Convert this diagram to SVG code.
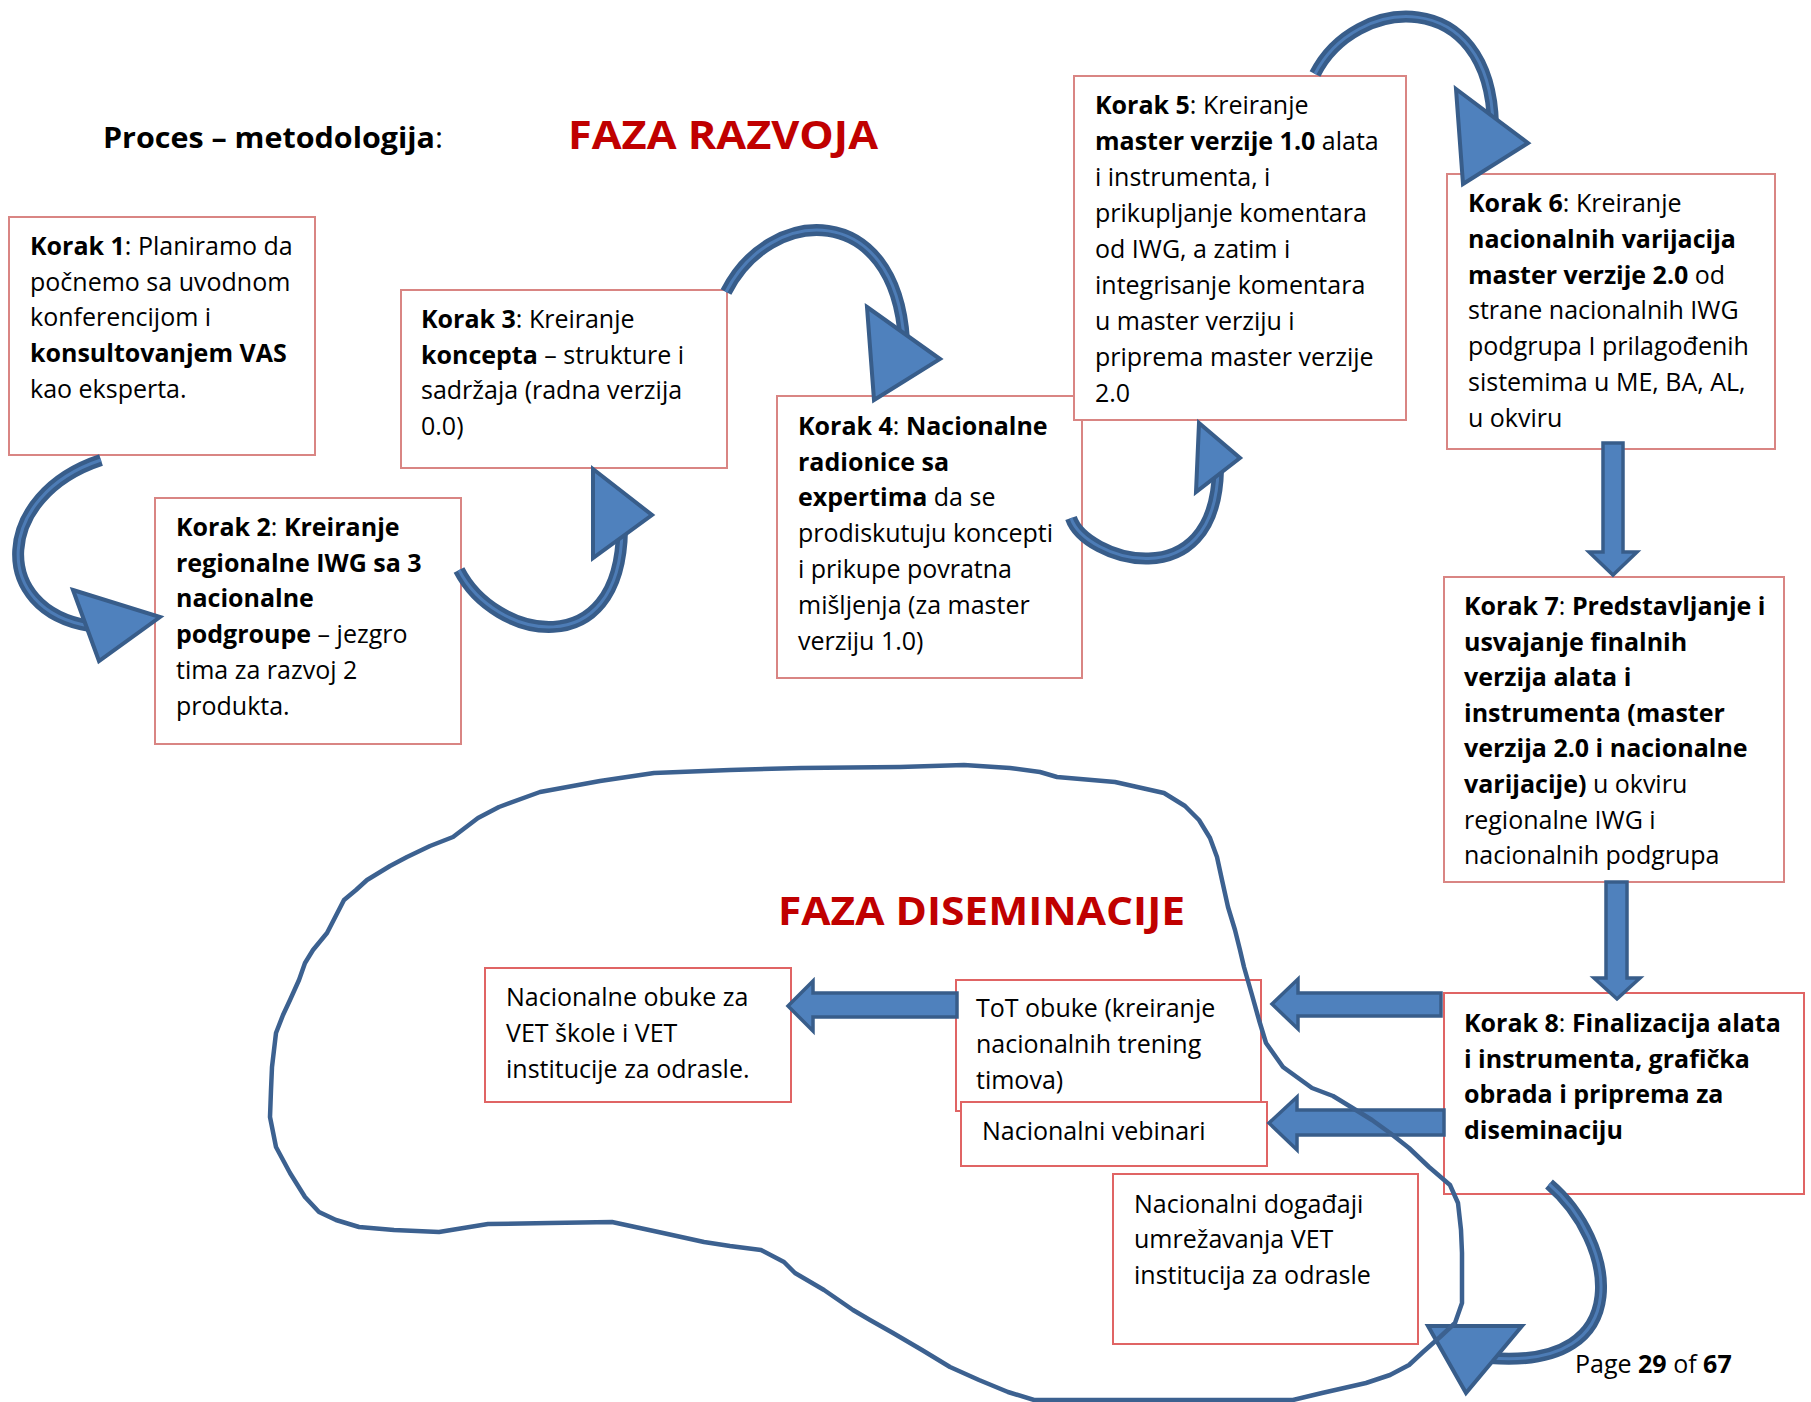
<svg xmlns="http://www.w3.org/2000/svg" width="1811" height="1402" viewBox="0 0 1811 1402">
<defs>
<style>
.box{fill:#fff;stroke:#D98583;stroke-width:2}
.box2{fill:#fff;stroke:#E06464;stroke-width:2}
.t{font-family:"Open Sans","Liberation Sans",sans-serif;font-size:25px;fill:#000}
.b{font-weight:bold}
.ttl{font-family:"Open Sans","Liberation Sans",sans-serif;font-weight:bold;font-size:39px;fill:#C00000}
.bo{fill:none;stroke:#385D8A;stroke-width:12}
.bi{fill:none;stroke:#4D7CB6;stroke-width:3}
.head{fill:#4F81BD;stroke:#385D8A;stroke-width:4;stroke-linejoin:miter}
.blk{fill:#4F81BD;stroke:#385D8A;stroke-width:3.5;stroke-linejoin:miter}
.blob{fill:none;stroke:#3C6190;stroke-width:4.5;stroke-linejoin:round;stroke-linecap:round}
</style>
</defs>
<rect width="1811" height="1402" fill="#fff"/>

<g id="titles">
<text class="t b" x="103" y="148" style="font-size:29px" textLength="340" lengthAdjust="spacingAndGlyphs">Proces – metodologija<tspan style="font-weight:normal">:</tspan></text>
<text class="ttl" x="568" y="149" textLength="310" lengthAdjust="spacingAndGlyphs">FAZA RAZVOJA</text>
<text class="ttl" x="778" y="925" textLength="407" lengthAdjust="spacingAndGlyphs">FAZA DISEMINACIJE</text>
</g>

<g id="step1">
<rect class="box" x="9" y="217" width="306" height="238"/>
<text class="t" x="30" y="255"><tspan class="b">Korak 1</tspan>: Planiramo da</text>
<text class="t" x="30" y="291">počnemo sa uvodnom</text>
<text class="t" x="30" y="326">konferencijom i</text>
<text class="t b" x="30" y="362">konsultovanjem VAS</text>
<text class="t" x="30" y="398">kao eksperta.</text>
</g>

<g id="step2">
<rect class="box" x="155" y="498" width="306" height="246"/>
<text class="t" x="176" y="536"><tspan class="b">Korak 2</tspan>: <tspan class="b">Kreiranje</tspan></text>
<text class="t b" x="176" y="572">regionalne IWG sa 3</text>
<text class="t b" x="176" y="607">nacionalne</text>
<text class="t" x="176" y="643"><tspan class="b">podgroupe</tspan> – jezgro</text>
<text class="t" x="176" y="679">tima za razvoj 2</text>
<text class="t" x="176" y="715">produkta.</text>
</g>

<g id="step3">
<rect class="box" x="401" y="290" width="326" height="178"/>
<text class="t" x="421" y="328"><tspan class="b">Korak 3</tspan>: Kreiranje</text>
<text class="t" x="421" y="364"><tspan class="b">koncepta</tspan> – strukture i</text>
<text class="t" x="421" y="399">sadržaja (radna verzija</text>
<text class="t" x="421" y="435">0.0)</text>
</g>

<g id="step4">
<rect class="box" x="777" y="396" width="305" height="282"/>
<text class="t" x="798" y="435"><tspan class="b">Korak 4</tspan>: <tspan class="b">Nacionalne</tspan></text>
<text class="t b" x="798" y="471">radionice sa</text>
<text class="t" x="798" y="506"><tspan class="b">expertima</tspan> da se</text>
<text class="t" x="798" y="542">prodiskutuju koncepti</text>
<text class="t" x="798" y="578">i prikupe povratna</text>
<text class="t" x="798" y="614">mišljenja (za master</text>
<text class="t" x="798" y="650">verziju 1.0)</text>
</g>

<g id="step5">
<rect class="box" x="1074" y="76" width="332" height="344"/>
<text class="t" x="1095" y="114"><tspan class="b">Korak 5</tspan>: Kreiranje</text>
<text class="t" x="1095" y="150"><tspan class="b">master verzije 1.0</tspan> alata</text>
<text class="t" x="1095" y="186">i instrumenta, i</text>
<text class="t" x="1095" y="222">prikupljanje komentara</text>
<text class="t" x="1095" y="258">od IWG, a zatim i</text>
<text class="t" x="1095" y="294">integrisanje komentara</text>
<text class="t" x="1095" y="330">u master verziju i</text>
<text class="t" x="1095" y="366">priprema master verzije</text>
<text class="t" x="1095" y="402">2.0</text>
</g>

<g id="step6">
<rect class="box" x="1447" y="174" width="328" height="275"/>
<text class="t" x="1468" y="212"><tspan class="b">Korak 6</tspan>: Kreiranje</text>
<text class="t b" x="1468" y="248">nacionalnih varijacija</text>
<text class="t" x="1468" y="284"><tspan class="b">master verzije 2.0</tspan> od</text>
<text class="t" x="1468" y="319">strane nacionalnih IWG</text>
<text class="t" x="1468" y="355">podgrupa I prilagođenih</text>
<text class="t" x="1468" y="391">sistemima u ME, BA, AL,</text>
<text class="t" x="1468" y="427">u okviru</text>
</g>

<g id="step7">
<rect class="box" x="1444" y="577" width="340" height="305"/>
<text class="t" x="1464" y="615"><tspan class="b">Korak 7</tspan>: <tspan class="b">Predstavljanje i</tspan></text>
<text class="t b" x="1464" y="651">usvajanje finalnih</text>
<text class="t b" x="1464" y="686">verzija alata i</text>
<text class="t b" x="1464" y="722">instrumenta (master</text>
<text class="t b" x="1464" y="757">verzija 2.0 i nacionalne</text>
<text class="t" x="1464" y="793"><tspan class="b">varijacije)</tspan> u okviru</text>
<text class="t" x="1464" y="829">regionalne IWG i</text>
<text class="t" x="1464" y="864">nacionalnih podgrupa</text>
</g>

<g id="step8">
<rect class="box2" x="1444" y="993" width="360" height="201"/>
<text class="t" x="1464" y="1032"><tspan class="b">Korak 8</tspan>: <tspan class="b">Finalizacija alata</tspan></text>
<text class="t b" x="1464" y="1068">i instrumenta, grafička</text>
<text class="t b" x="1464" y="1103">obrada i priprema za</text>
<text class="t b" x="1464" y="1139">diseminaciju</text>
</g>

<g id="obuke">
<rect class="box2" x="485" y="968" width="306" height="134"/>
<text class="t" x="506" y="1006">Nacionalne obuke za</text>
<text class="t" x="506" y="1042">VET škole i VET</text>
<text class="t" x="506" y="1078">institucije za odrasle.</text>
</g>

<g id="tot">
<rect class="box2" x="956" y="980" width="305" height="131"/>
<text class="t" x="976" y="1017">ToT obuke (kreiranje</text>
<text class="t" x="976" y="1053">nacionalnih trening</text>
<text class="t" x="976" y="1089">timova)</text>
</g>

<g id="vebinari">
<rect class="box2" x="961" y="1102" width="306" height="64"/>
<text class="t" x="982" y="1140">Nacionalni vebinari</text>
</g>

<g id="dogadjaji">
<rect class="box2" x="1113" y="1174" width="305" height="170"/>
<text class="t" x="1134" y="1213">Nacionalni događaji</text>
<text class="t" x="1134" y="1248">umrežavanja VET</text>
<text class="t" x="1134" y="1284">institucija za odrasle</text>
</g>

<g id="page">
<text class="t" x="1575" y="1373">Page <tspan class="b">29</tspan> of <tspan class="b">67</tspan></text>
</g>

<g id="connectors">
<path class="bo" d="M101,460 C-5,495 -10,610 90,626"/>
<path class="bi" d="M101,460 C-5,495 -10,610 90,626"/>
<polygon class="head" points="73,590 160,617 99,661"/>

<path class="bo" d="M459,570 C495,640 620,665 622,530"/>
<path class="bi" d="M459,570 C495,640 620,665 622,530"/>
<polygon class="head" points="593,469 652,515 593,558"/>

<path class="bo" d="M726,292 C770,205 895,200 904,340"/>
<path class="bi" d="M726,292 C770,205 895,200 904,340"/>
<polygon class="head" points="867,307 940,359 874,400"/>

<path class="bo" d="M1071,518 C1085,560 1215,600 1218,470"/>
<path class="bi" d="M1071,518 C1085,560 1215,600 1218,470"/>
<polygon class="head" points="1199,423 1240,458 1196,492"/>

<path class="bo" d="M1315,74 C1355,-5 1490,-15 1493,125"/>
<path class="bi" d="M1315,74 C1355,-5 1490,-15 1493,125"/>
<polygon class="head" points="1456,89 1528,143 1463,184"/>

<path class="bo" d="M1549,1184 C1615,1240 1640,1370 1490,1358"/>
<path class="bi" d="M1549,1184 C1615,1240 1640,1370 1490,1358"/>
<polygon class="head" points="1428,1326 1522,1326 1466,1393"/>

<polygon class="blk" points="1603,443 1623,443 1623,552 1637,552 1613,575 1589,552 1603,552"/>
<polygon class="blk" points="1606,882 1627,882 1627,978 1640,978 1617,999 1594,978 1606,978"/>
<polygon class="blk" points="1441,993 1441,1016 1298,1016 1298,1029 1272,1004 1298,979 1298,993"/>
<polygon class="blk" points="1444,1110 1444,1135 1297,1135 1297,1150 1269,1123 1297,1097 1297,1110"/>
<polygon class="blk" points="957,993 957,1017 813,1017 813,1031 788,1006 813,981 813,993"/>

<path class="blob" d="M313,950 L327,933 L344,900 L356,890 L367,880 L390,866 L407,857 L430,846 L453,837 L478,818 L499,807 L540,792 L600,781 L654,773 L730,770 L801,768 L900,767 L964,765 L1010,768 L1040,772 L1057,777 L1115,782 L1164,793 L1185,806 L1199,820 L1210,838 L1217,857 L1222,880 L1228,907 L1235,930 L1240,950 L1244,967 L1252,995 L1259,1020 L1266,1043 L1283,1067 L1312,1088 L1333,1096 L1351,1107 L1372,1120 L1390,1133 L1409,1148 L1429,1167 L1450,1185 L1458,1203 L1461,1230 L1462,1253 L1462,1303 L1455,1323 L1440,1337 L1423,1352 L1409,1365 L1390,1375 L1366,1383 L1322,1393 L1293,1400 L1200,1400 L1100,1400 L1034,1400 L1008,1392 L979,1380 L950,1367 L922,1350 L893,1333 L870,1320 L853,1310 L824,1290 L795,1273 L784,1262 L761,1250 L730,1246 L704,1242 L663,1233 L612,1222 L550,1223 L488,1224 L439,1232 L394,1230 L359,1227 L336,1220 L319,1212 L305,1197 L290,1173 L276,1147 L270,1117 L271,1090 L272,1067 L276,1033 L283,1015 L290,1000 L299,980 L305,963 Z"/>
</g>
</svg>
